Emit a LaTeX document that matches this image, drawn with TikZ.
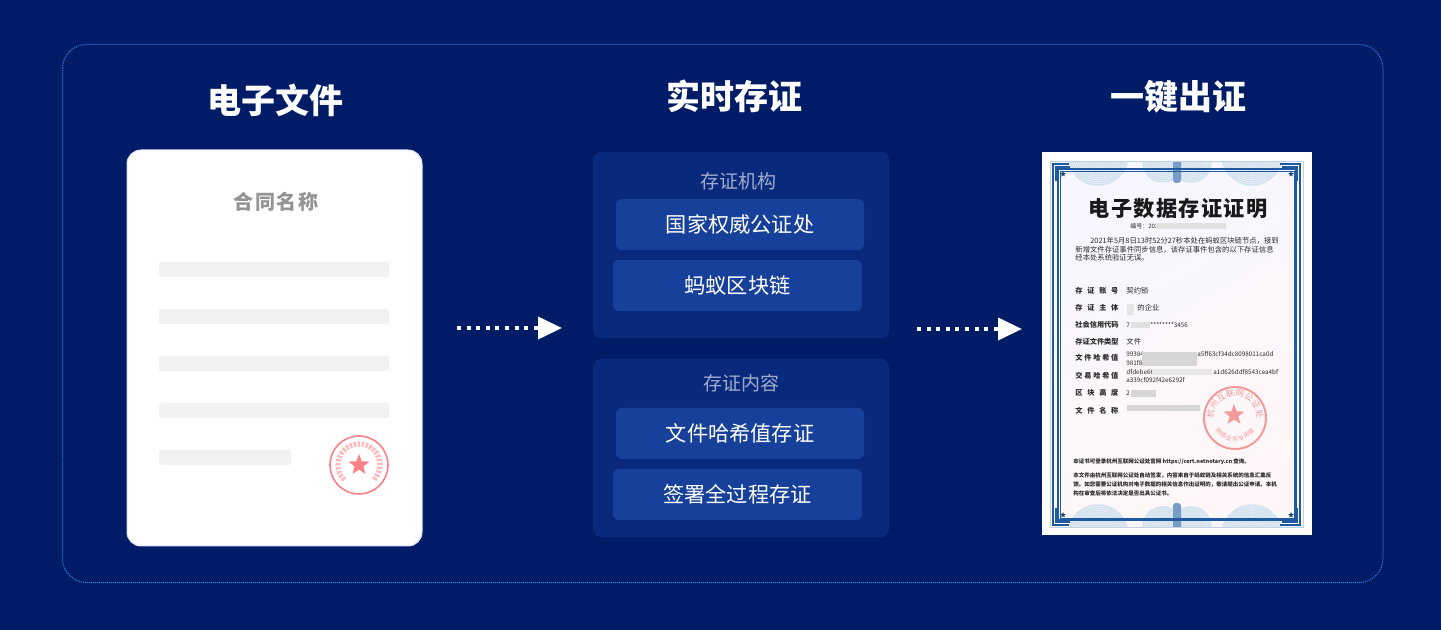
\documentclass[tikz,border=0pt]{standalone}
\usepackage{fontspec}
\usepackage{tikz}
\usetikzlibrary{arrows.meta,shapes.geometric,calc}
\setmainfont{Noto Sans CJK SC}
\newcommand{\fsz}[1]{\fontsize{#1}{#1}\selectfont}
\newcommand{\spreadlabel}[1]{\makebox[21.5pt][s]{#1}}
\definecolor{pagebg}{HTML}{011C66}
\definecolor{framec}{HTML}{2A86E8}
\definecolor{panelc}{HTML}{092A7C}
\definecolor{boxc}{HTML}{17409B}
\definecolor{barc}{HTML}{F1F2F4}
\definecolor{sealc}{HTML}{FF7F86}
\definecolor{sealb}{HTML}{F29A9A}
\definecolor{certb}{HTML}{1F5AA0}
\definecolor{rosec}{HTML}{BCD3E6}
\definecolor{inkc}{HTML}{2A2A2A}
\tikzset{
  heading/.style={text=white,inner sep=0pt,font=\fsz{17}\bfseries},
  panel/.style={fill=panelc,rounded corners=4pt},
  itembox/.style={fill=boxc,rounded corners=3pt,text=white,inner sep=0pt,font=\fsz{10.6}},
  paneltitle/.style={text=white,text opacity=.62,inner sep=0pt,font=\fsz{9.5}},
  bar/.style={fill=barc,rounded corners=1pt},
  flow/.style={white,line width=2pt,dash pattern=on 2pt off 2.8pt,-{Triangle[length=12pt,width=11pt,sep=0pt]}},
  certlabel/.style={anchor=west,inner sep=0pt,text=inkc,font=\fsz{3.6}\bfseries},
  certtext/.style={anchor=west,inner sep=0pt,text=inkc,font=\fsz{3.67}},
  certhash/.style={anchor=west,inner sep=0pt,text=inkc,font=\fsz{3.15}},
  certnote/.style={anchor=west,inner sep=0pt,text=inkc,font=\fsz{2.75}\bfseries},
  blurbar/.style={fill=black!16,draw=none},
  rosefill/.style={fill=rosec!40!white,draw=none},
  rosering/.style={rosec,line width=.2pt}
}
\begin{document}
\begin{tikzpicture}[x=0.5pt,y=-0.5pt]
\useasboundingbox (0,0) rectangle (1441,630);
\fill[pagebg] (0,0) rectangle (1441,630);
\draw[framec,line width=.5pt,dash pattern=on .5pt off .5pt,rounded corners=12pt] (62.5,44.5) rectangle (1383,582.5);
\node[heading] (filetitle) at (275,100) {电子文件};
\node[heading] (savetitle) at (734,96) {实时存证};
\node[heading] (certtitle) at (1178,97) {一键出证};
\draw[fill=white,draw=black!20!blue!12!white,line width=.5pt,rounded corners=7pt] (127,150) rectangle (422,546);
\node[inner sep=0pt,text=black!42,font=\fsz{10}\bfseries] (filename) at (276,202) {\addfontfeature{LetterSpace=7}合同名称};
\foreach \y in {262,309,356,403}
\fill[bar] (159,\y) rectangle (389,\y+15);
\fill[bar] (159,450) rectangle (291,465);
\coordinate (stampc) at (359,465);
\draw[sealc,line width=.8pt] (stampc) circle (29);
\draw[sealc!55!white,line width=2.6pt,dash pattern=on 1.2pt off .8pt] ($(stampc)+(135:21)$) arc[start angle=135,end angle=405,radius=21];
\node[star,star points=5,star point ratio=2.4,fill=sealc,inner sep=0pt,minimum size=11pt] (stampstar) at (359,465) {};
\fill[panel] (593,152) rectangle (889,338);
\fill[panel] (593,359) rectangle (889,537);
\node[paneltitle] (orgtitle) at (738,181) {存证机构};
\node[paneltitle] (contenttitle) at (741,383) {存证内容};
\node[itembox,minimum width=124pt,minimum height=25.5pt] (orgbox1) at (740,224.5) {\raisebox{1pt}{国家权威公证处}};
\node[itembox,minimum width=124.5pt,minimum height=25.5pt] (orgbox2) at (737.5,285.5) {\raisebox{1pt}{蚂蚁区块链}};
\node[itembox,minimum width=124pt,minimum height=25.5pt] (contentbox1) at (740,433.5) {\raisebox{1pt}{文件哈希值存证}};
\node[itembox,minimum width=124.5pt,minimum height=25.5pt] (contentbox2) at (737.5,494.5) {\raisebox{1pt}{签署全过程存证}};
\coordinate (flowa1) at (457,328);
\coordinate (flowa2) at (562,328);
\coordinate (flowb1) at (917,329);
\coordinate (flowb2) at (1022,329);
\draw[flow] (flowa1) -- (flowa2);
\draw[flow] (flowb1) -- (flowb2);
\fill[white] (1042,152) rectangle (1312,535);
\shade[left color=white!97!blue,right color=white!97!red,shading angle=30] (1052,163) rectangle (1301,527);
\begin{scope}
\clip (1052,163) rectangle (1301,527);
\foreach \cx/\cy in {1098/155,1252/155,1098/535,1252/535}{
\fill[rosefill] (\cx,\cy) circle (31);
\foreach \r in {2,4,...,30}
\draw[rosering] (\cx,\cy) circle (\r);
}
\foreach \cx/\cy in {1163/162,1191/162,1163/527,1191/527}{
\fill[rosefill] (\cx,\cy) circle (21);
\foreach \r in {2,4,...,20}
\draw[rosering] (\cx,\cy) circle (\r);
}
\fill[rosec!55!certb,rounded corners=1.5pt] (1173,160) rectangle (1181,183);
\fill[rosec!55!certb,rounded corners=1.5pt] (1173,503) rectangle (1181,530);
\end{scope}
\draw[rosec,line width=.5pt] (1050.5,161.5) rectangle (1303,527.5);
\draw[certb,line width=.6pt] (1058,169) rectangle (1296,520);
\draw[certb,line width=.3pt] (1060,171) rectangle (1294,518);
\draw[certb,line width=.8pt] (1069,164) -- (1053,164) -- (1053,525) -- (1069,525) (1280,164) -- (1300,164) -- (1300,525) -- (1280,525);
\draw[certb,line width=1.3pt] (1056,181) |- (1070,167) (1297,181) |- (1282,167) (1056,508) |- (1070,522) (1297,508) |- (1282,522);
\foreach \sx/\sy in {1063/174,1291/174,1063/515,1291/515}
\node[star,star points=5,star point ratio=2.4,fill=certb!70!black,inner sep=0pt,minimum size=3pt] at (\sx,\sy) {};
\node[inner sep=0pt,text=black!90,font=\fsz{10.6}\bfseries] (certname) at (1178,209) {\addfontfeature{LetterSpace=6}电子数据存证证明};
\node[inner sep=0pt,anchor=west,text=inkc,font=\fsz{3}] (certno) at (1130,226) {编号：202};
\fill[black!12] (1156,223) rectangle (1226,229);
\node[certtext] (para1) at (1090,241) {2021年5月8日13时52分27秒本处在蚂蚁区块链节点，接到};
\node[certtext] (para2) at (1075,249.5) {新增文件存证事件同步信息，该存证事件包含的以下存证信息};
\node[certtext] (para3) at (1075,258) {经本处系统验证无误。};
\foreach \t/\y in {存\hfil 证\hfil 账\hfil 号/291,存\hfil 证\hfil 主\hfil 体/308,社\hfil 会\hfil 信\hfil 用\hfil 代\hfil 码/325,存\hfil 证\hfil 文\hfil 件\hfil 类\hfil 型/342,文\hfil 件\hfil 哈\hfil 希\hfil 值/358,交\hfil 易\hfil 哈\hfil 希\hfil 值/376,区\hfil 块\hfil 高\hfil 度/393,文\hfil 件\hfil 名\hfil 称/411}
\node[certlabel] at (1075,\y) {\spreadlabel{\t}};
\foreach \t/\y in {契约锁/291,文件/342}
\node[certtext] at (1126,\y) {\t};
\node[certtext] (subject) at (1137,308) {的企业};
\node[certhash] (creditid) at (1126,325) {7};
\node[certhash] (creditid2) at (1150,325) {********3456};
\node[certhash] (hasha) at (1126,354) {99384};
\node[certhash] (hashb) at (1197,354) {a5ff63cf34dc8098011ca0d};
\node[certhash] (hashc) at (1126,362.5) {981f8};
\node[certhash] (txa) at (1126,372) {dfdebe66c};
\node[certhash] (txb) at (1213,372) {a1d626ddf8543cea4bf};
\node[certhash] (txc) at (1126,380) {a339cf092f42e6292f};
\node[certhash] (height) at (1126,393) {2};
\fill[blurbar] (1142,352) rectangle (1197,366);
\fill[blurbar] (1131,390) rectangle (1156,397);
\fill[blurbar] (1127,405) rectangle (1200,411);
\fill[black!10] (1127,304) rectangle (1134,315);
\fill[black!12] (1131,322) rectangle (1150,328);
\fill[black!9] (1152,369) rectangle (1212,375);
\coordinate (sealc) at (1235,418);
\draw[sealb,line width=1pt] (sealc) circle (31);
\node[star,star points=5,star point ratio=2.4,fill=sealb,inner sep=0pt,minimum size=11pt] (sealstar) at (1234,415) {};
\foreach \a/\c in {-170/杭,-147/州,-124/互,-101/联,-79/网,-56/公,-33/证,-10/处}
\node[text=sealb,inner sep=0pt,font=\fsz{4.2},rotate={-(\a+90)}] at ($(sealc)+(\a:25)$) {\c};
\foreach \a/\c in {140/网,123/络,107/业,90/务,73/专,57/用,40/章}
\node[text=sealb,inner sep=0pt,font=\fsz{3},rotate={90-\a}] at ($(sealc)+(\a:21)$) {\c};
\node[certnote] (footnote) at (1073,462) {本证书可登录杭州互联网公证处官网 https://cert.netnotary.cn 查询。};
\node[certnote] (note1) at (1073,476) {本文件由杭州互联网公证处自动签发，内容来自于蚂蚁链及相关系统的信息汇集反};
\node[certnote] (note2) at (1073,485) {馈。如您需要公证机构对电子数据的相关信息作出证明的，敬请提出公证申请。本机};
\node[certnote] (note3) at (1073,493) {构在审查后将依法决定是否出具公证书。};
\end{tikzpicture}
\end{document}
